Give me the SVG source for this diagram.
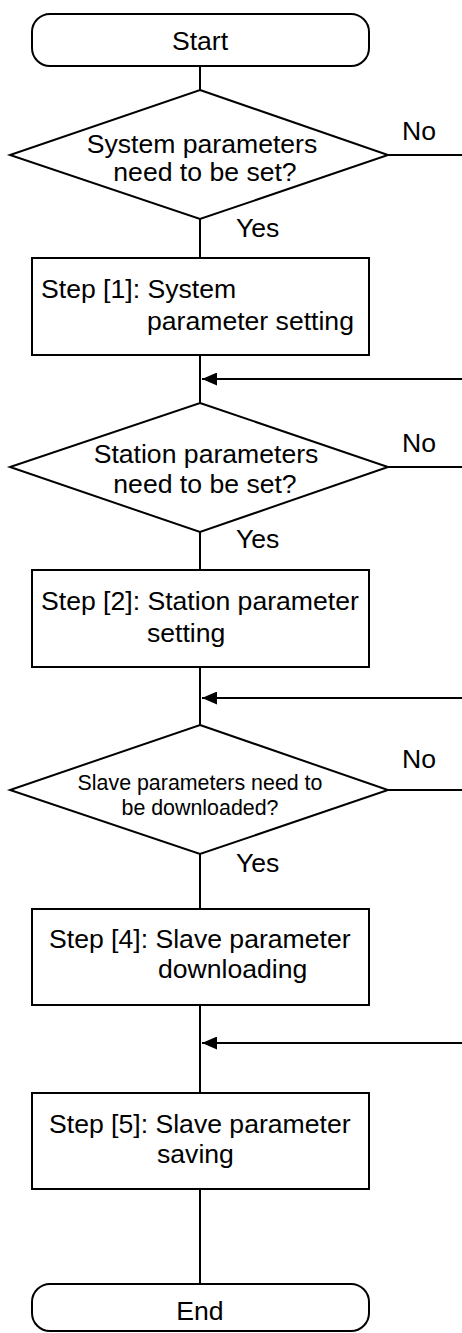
<svg xmlns="http://www.w3.org/2000/svg" width="462" height="1333" viewBox="0 0 462 1333">
<style>
.s{fill:#fff;stroke:#000;stroke-width:2}
.c{fill:none;stroke:#000;stroke-width:2}
text{font-family:"Liberation Sans",Arial,sans-serif;font-size:26.6px;fill:#000}
.m{text-anchor:middle}
.sm{font-size:21.4px}
</style>
<defs>
<marker id="ah" markerWidth="15" markerHeight="13" refX="15" refY="6.5" orient="auto" markerUnits="userSpaceOnUse">
<path d="M0,0 L15,6.5 L0,13 Z" fill="#000"/>
</marker>
</defs>
<g id="connectors">
<line class="c" x1="200" y1="66" x2="200" y2="90"/>
<line class="c" x1="200" y1="219" x2="200" y2="258"/>
<line class="c" x1="200" y1="355" x2="200" y2="403"/>
<line class="c" x1="200" y1="532" x2="200" y2="570"/>
<line class="c" x1="200" y1="667" x2="200" y2="725"/>
<line class="c" x1="200" y1="854" x2="200" y2="909"/>
<line class="c" x1="200" y1="1005" x2="200" y2="1093"/>
<line class="c" x1="200" y1="1189" x2="200" y2="1284"/>
<line class="c" x1="388" y1="155" x2="462" y2="155"/>
<line class="c" x1="388" y1="467" x2="462" y2="467"/>
<line class="c" x1="388" y1="790" x2="462" y2="790"/>
<line class="c" x1="462" y1="379" x2="202" y2="379" marker-end="url(#ah)"/>
<line class="c" x1="462" y1="698" x2="202" y2="698" marker-end="url(#ah)"/>
<line class="c" x1="462" y1="1043" x2="202" y2="1043" marker-end="url(#ah)"/>
<text x="402" y="140">No</text>
<text x="402" y="452">No</text>
<text x="402" y="768">No</text>
<text x="236" y="237">Yes</text>
<text x="236" y="548">Yes</text>
<text x="236" y="872">Yes</text>
</g>
<g id="start">
<rect class="s" x="32" y="14" width="337" height="52" rx="18" ry="18"/>
<text class="m" x="200" y="50">Start</text>
</g>
<g id="d1">
<polygon class="s" points="200,90 388,155 200,219 10,155"/>
<text class="m" x="202" y="153">System parameters</text>
<text class="m" x="205" y="181">need to be set?</text>
</g>
<g id="b1">
<rect class="s" x="32" y="258" width="337" height="97"/>
<text x="41" y="298">Step [1]: System</text>
<text x="147" y="330">parameter setting</text>
</g>
<g id="d2">
<polygon class="s" points="200,403 388,467 200,532 10,467"/>
<text class="m" x="206" y="463">Station parameters</text>
<text class="m" x="205" y="493">need to be set?</text>
</g>
<g id="b2">
<rect class="s" x="32" y="570" width="337" height="97"/>
<text x="41" y="610">Step [2]: Station parameter</text>
<text x="147" y="642">setting</text>
</g>
<g id="d3">
<polygon class="s" points="200,725 388,790 200,854 10,790"/>
<text class="m sm" x="200" y="790">Slave parameters need to</text>
<text class="m sm" x="200" y="815">be downloaded?</text>
</g>
<g id="b3">
<rect class="s" x="32" y="909" width="337" height="96"/>
<text x="49" y="948">Step [4]: Slave parameter</text>
<text x="158" y="978">downloading</text>
</g>
<g id="b4">
<rect class="s" x="32" y="1093" width="337" height="96"/>
<text x="49" y="1133">Step [5]: Slave parameter</text>
<text x="157" y="1163">saving</text>
</g>
<g id="end">
<rect class="s" x="32" y="1284" width="337" height="47" rx="18" ry="18"/>
<text class="m" x="200" y="1320">End</text>
</g>
</svg>
